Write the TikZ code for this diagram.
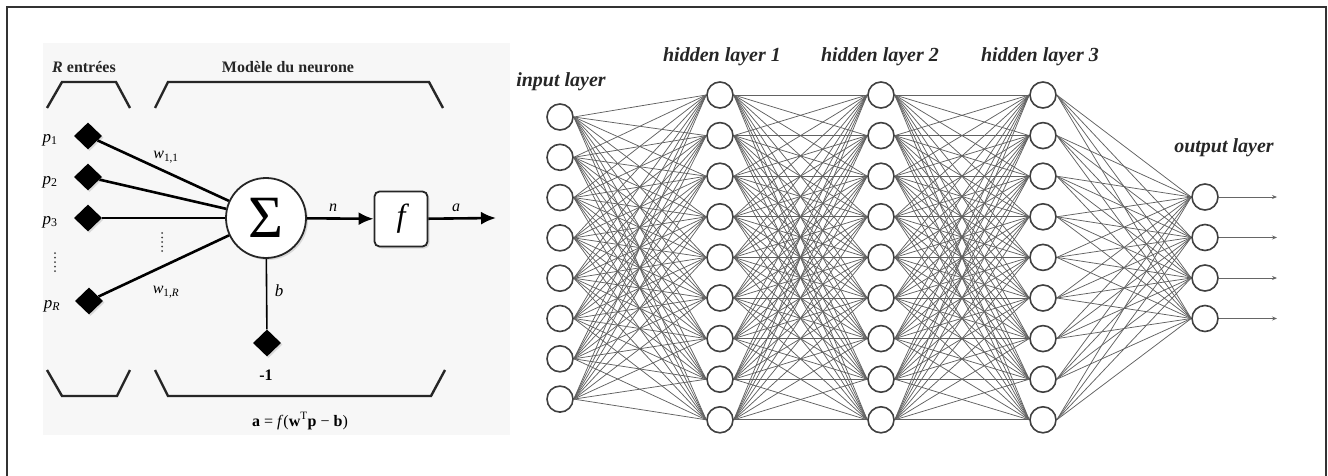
\documentclass[tikz,border=0pt]{standalone}
\usepackage{fontspec}
\setmainfont{Liberation Serif}
\usetikzlibrary{shapes.geometric,arrows.meta,shadows,backgrounds}
\begin{document}
\begin{tikzpicture}[x=1pt,y=-1pt,
  neuron/.style={circle,draw=black!75,line width=1.6pt,fill=white,minimum size=26pt,inner sep=0pt},
  link/.style={draw=black!62,line width=0.75pt},
  outarrow/.style={draw=black!60,line width=0.9pt,-{Stealth[length=5pt,width=4pt]}},
  inp/.style={diamond,fill=black,minimum width=28pt,minimum height=27pt,inner sep=0pt,
     drop shadow={opacity=0.25,shadow xshift=1.5pt,shadow yshift=-1.5pt}},
  bracket/.style={line width=2.4pt,draw=black!85,line join=miter},
  wire/.style={line width=2.6pt,draw=black},
  arr/.style={line width=2.6pt,draw=black,-{Latex[length=15pt,width=13pt]}},
  lbl/.style={font=\fontsize{20}{24}\selectfont\bfseries\itshape,text=black!85},
  head/.style={font=\fontsize{16}{19}\selectfont\bfseries,text=black!85},
  plabel/.style={font=\fontsize{17}{20}\selectfont\itshape},
  small/.style={font=\fontsize{16}{19}\selectfont\itshape},
  vdotline/.style={line width=2pt,black!75,dash pattern=on 0pt off 4.5pt,line cap=round}
]
\useasboundingbox (0,0) rectangle (1328,476);
% frame and panel
\draw[line width=1.8pt,black!80] (7,476) -- (7,7) -- (1326,7) -- (1326,476);
\fill[black!3] (43,43) rectangle (510,435);

% ---------- neuron model ----------
\node[head] (tR) at (84,67) {\textit{R} entrées};
\node[head] (tM) at (288,67) {Modèle du neurone};
\draw[bracket] (47,108) -- (62,82) -- (116,82) -- (130,108);
\draw[bracket] (155,108) -- (168,82) -- (429,82) -- (443,108);
\draw[bracket] (47,370) -- (62,396) -- (117,396) -- (130,370);
\draw[bracket] (155,370) -- (168,396) -- (431,396) -- (445,370);

\node[inp] (p1) at (88,136) {};
\node[inp] (p2) at (88,177) {};
\node[inp] (p3) at (88,218) {};
\node[inp] (pR) at (89,301) {};
\node[plabel] (lp1) at (50,140) {p\textsubscript{\upshape 1}};
\node[plabel] (lp2) at (50,182) {p\textsubscript{\upshape 2}};
\node[plabel] (lp3) at (50,222) {p\textsubscript{\upshape 3}};
\node[plabel] (lpR) at (52,306) {p\textsubscript{\textit{R}}};
\draw[vdotline] (55,253) -- (55,273);
\draw[vdotline] (162,233) -- (162,253);

\node[circle,draw=black!85,line width=1.8pt,minimum size=80pt,inner sep=0pt,fill=white,
      drop shadow={opacity=0.25,shadow xshift=2pt,shadow yshift=-2pt}] (sum) at (266,218)
      {\fontsize{60}{60}\selectfont Σ};
\node[draw=black!85,rounded corners=5pt,line width=1.8pt,minimum width=53pt,minimum height=55pt,
      fill=white,drop shadow={opacity=0.25,shadow xshift=2pt,shadow yshift=-2pt}] (fb) at (401,219)
      {\fontsize{32}{32}\selectfont\itshape f};
\node[inp] (bias) at (267,343) {};
\coordinate (aout) at (496,218);

\draw[wire] (p1) -- (sum);
\draw[wire] (p2) -- (sum);
\draw[wire] (p3) -- (sum);
\draw[wire] (pR) -- (sum);
\draw[line width=1.6pt] (sum) -- (bias);
\draw[arr] (sum) -- (fb);
\draw[arr] (fb) -- (aout);

\node[small] (w11) at (166,157) {w\textsubscript{\upshape 1,1}};
\node[small] (w1R) at (166,292) {w\textsubscript{\upshape 1,\itshape R}};
\node[small] (ln) at (333,208) {n};
\node[small] (la) at (456,208) {a};
\node[plabel] (lb) at (279,291) {b};
\node[font=\fontsize{16}{19}\selectfont\bfseries] (lm1) at (266,375) {-1};
\node[font=\fontsize{16}{19}\selectfont] (form) at (300,421)
  {\textbf{a} = \textit{f}(\textbf{w}\textsuperscript{T}\textbf{p} − \textbf{b})};

% ---------- network ----------
\foreach \i in {1,...,8} \node[neuron] (i\i) at (560,{117+40.3*(\i-1)}) {};
\foreach \l/\x in {1/720,2/881,3/1043}
  \foreach \i in {1,...,9} \node[neuron] (h\l-\i) at (\x,{95+40.6*(\i-1)}) {};
\foreach \i in {1,...,4} \node[neuron] (o\i) at (1205,{197+40.5*(\i-1)}) {};

\begin{scope}[on background layer]
\foreach \a in {1,...,8} \foreach \b in {1,...,9} \draw[link] (i\a.east) -- (h1-\b.west);
\foreach \a in {1,...,9} \foreach \b in {1,...,9} {
  \draw[link] (h1-\a.east) -- (h2-\b.west);
  \draw[link] (h2-\a.east) -- (h3-\b.west);}
\foreach \a in {1,...,9} \foreach \b in {1,...,4} \draw[link] (h3-\a.east) -- (o\b.west);
\end{scope}

\foreach \i in {1,...,4} {
  \coordinate (t\i) at (1277,{197+40.5*(\i-1)});
  \draw[outarrow] (o\i.east) -- (t\i);}

\node[lbl] (Lin) at (561,82) {input layer};
\node[lbl] (Lh1) at (722,57) {hidden layer 1};
\node[lbl] (Lh2) at (880,57) {hidden layer 2};
\node[lbl] (Lh3) at (1040,57) {hidden layer 3};
\node[lbl] (Lout) at (1224,148) {output layer};
\end{tikzpicture}
\end{document}
